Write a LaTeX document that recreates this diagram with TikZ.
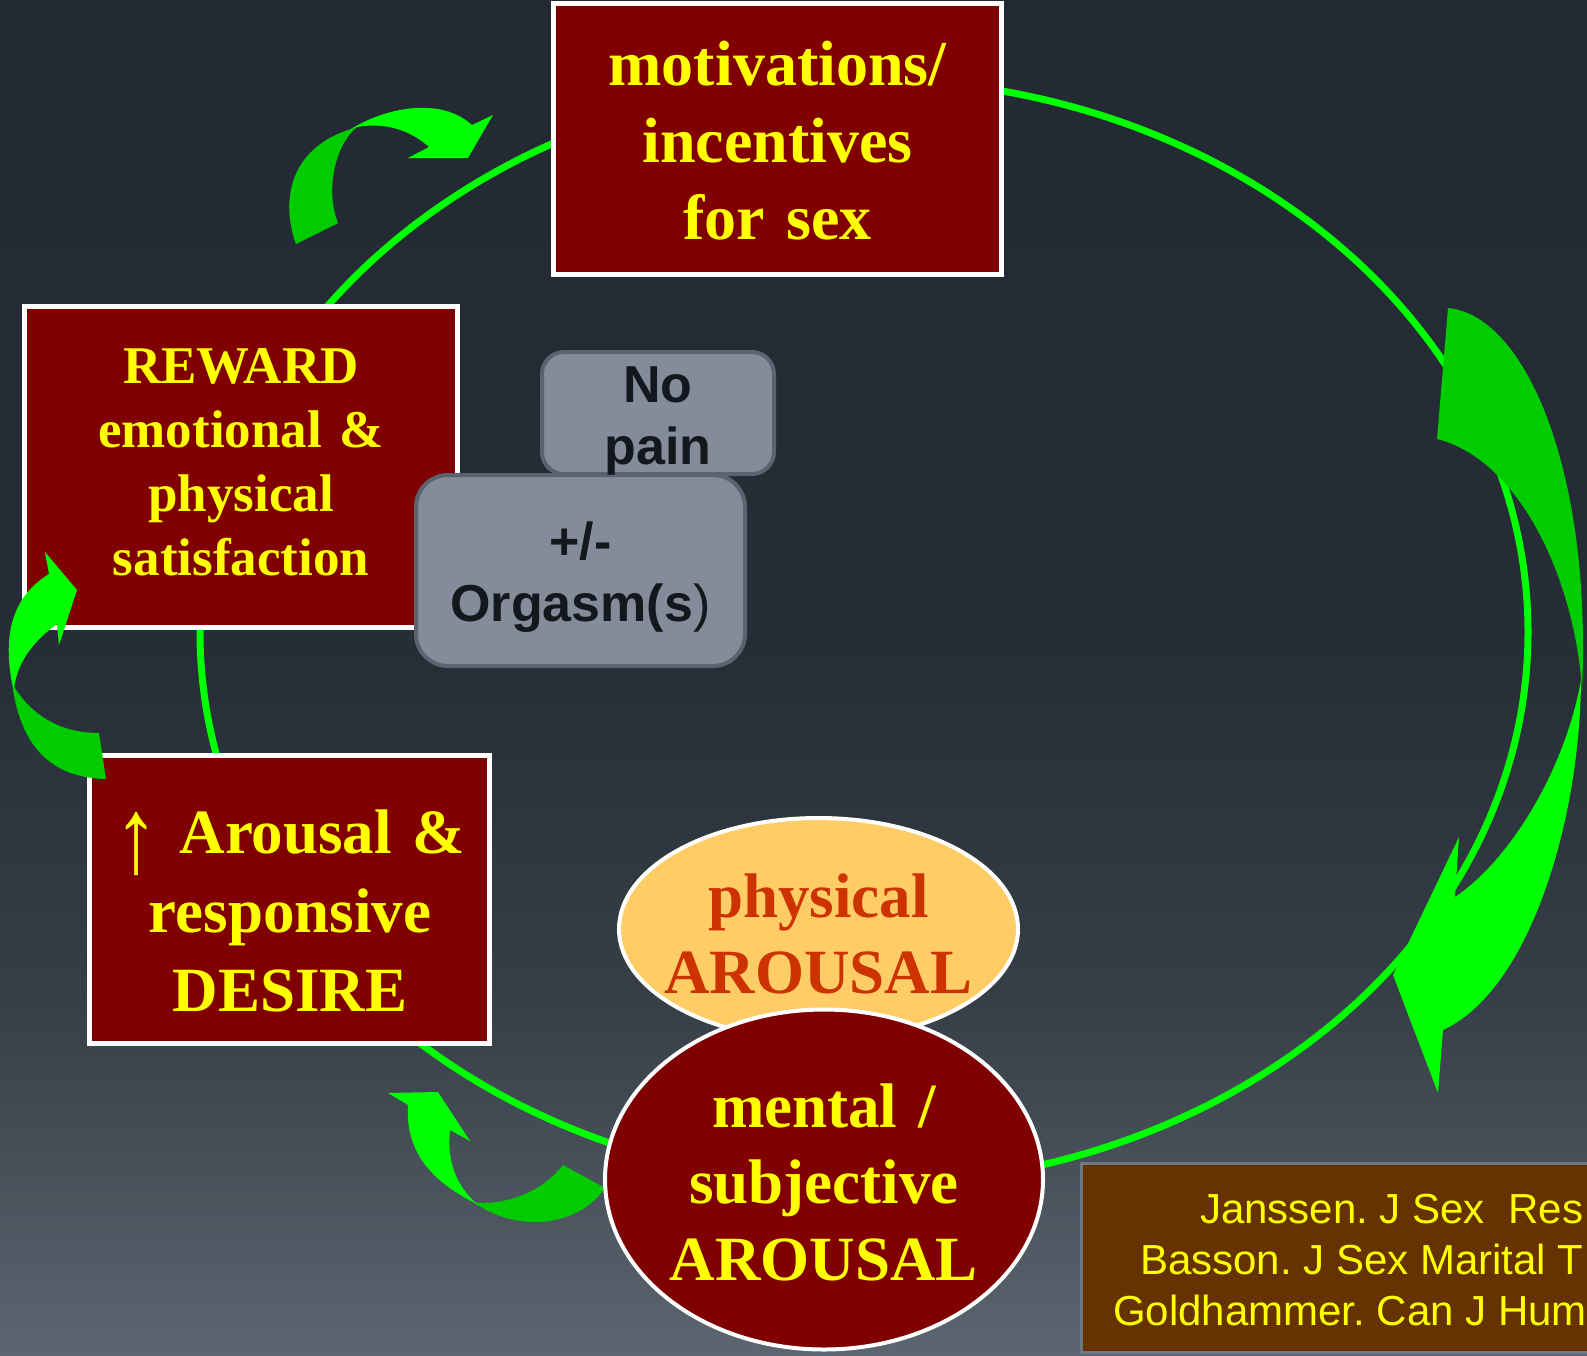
\documentclass[tikz,border=0pt]{standalone}
\usepackage{fontspec}
\usepackage{graphicx}
\setmainfont{Liberation Serif}
\newfontfamily\arialf{Liberation Sans}
\usetikzlibrary{shapes.geometric}
\definecolor{bgA}{RGB}{35,41,50}
\definecolor{bgB}{RGB}{38,45,54}
\definecolor{bgC}{RGB}{54,62,71}
\definecolor{bgD}{RGB}{92,102,112}
\definecolor{boxred}{RGB}{128,0,0}
\definecolor{yel}{RGB}{255,255,0}
\definecolor{physfill}{RGB}{255,204,102}
\definecolor{phystext}{RGB}{204,51,0}
\definecolor{grayfill}{RGB}{132,140,154}
\definecolor{grayedge}{RGB}{92,99,112}
\definecolor{graytext}{RGB}{20,24,30}
\definecolor{lime}{RGB}{0,255,0}
\definecolor{arrowdark}{RGB}{0,204,0}
\definecolor{citefill}{RGB}{102,51,0}
\definecolor{citeedge}{RGB}{110,120,132}
\newcommand{\fixsp}{\frenchspacing\spaceskip=\fontdimen2\font\relax}
\begin{document}
\begin{tikzpicture}[x=1pt,y=-1pt,
  redbox/.style={rectangle, draw=white, line width=5pt, fill=boxred, inner sep=0pt},
  graybox/.style={rectangle, draw=grayedge, line width=4pt, fill=grayfill, inner sep=0pt},
  ovalbox/.style={ellipse, draw=white, line width=4pt, inner sep=0pt},
  seriftxt/.style={text=yel, align=center, text width=600pt, inner sep=0pt, anchor=base},
  sanstxt/.style={text=graytext, align=center, text width=400pt, inner sep=0pt, anchor=base,
    font=\arialf\bfseries\fontsize{52}{62}\selectfont\fixsp},
  citetxt/.style={text=yel, inner sep=0pt, anchor=base west, font=\arialf\fontsize{42}{51}\selectfont\fixsp},
  cycleline/.style={draw=lime, line width=7pt},
  darkpart/.style={fill=arrowdark},
  lightpart/.style={fill=lime}
]
\useasboundingbox (0,0) rectangle (1587,1355);
\clip (0,0) rectangle (1587,1355);
% background
\shade[top color=bgA, bottom color=bgB] (0,-1) rectangle (1588,651);
\shade[top color=bgB, bottom color=bgC] (0,650) rectangle (1588,1001);
\shade[top color=bgC, bottom color=bgD] (0,1000) rectangle (1588,1356);

% cycle
\draw[cycleline] (864,632) ellipse [x radius=664pt, y radius=553pt];

% red boxes
\node[redbox, minimum width=448pt, minimum height=271pt] (motiv) at (777.5,139) {};
\node[seriftxt, font=\bfseries\fontsize{64}{77}\selectfont\fixsp] (motivT) at (777.5,85) {motivations/\\incentives\\for sex};

\node[redbox, minimum width=433pt, minimum height=321pt] (reward) at (241,467) {};
\node[seriftxt, font=\bfseries\fontsize{53}{64.3}\selectfont\fixsp] (rewardT) at (241,383) {REWARD\\emotional \&\\physical\hspace*{14pt}\\satisfaction};

\node[redbox, minimum width=400pt, minimum height=288pt] (desire) at (289,899.5) {};
\node[seriftxt, font=\bfseries\fontsize{63}{79}\selectfont\fixsp] (desireT) at (290,853)
  {{\mdseries\raisebox{-19pt}{\scalebox{1.4}[1.7]{↑}}} Arousal \&\\responsive\\DESIRE};

% curved arrows
\fill[darkpart] (296,244) .. controls (280,200) and (290,148) .. (351,129) -- (357,127) .. controls (335,145) and (325,190) .. (338,223) -- cycle;
\fill[lightpart] (351,129) .. controls (385,108) and (440,96) .. (472,125) -- (493,115) -- (468,158) -- (408,158) -- (429,147) .. controls (410,130) and (385,122) .. (357,127) -- cycle;

\fill[darkpart] (106,779) .. controls (50,778) and (20,745) .. (12,683) .. controls (30,715) and (60,733) .. (99,733) -- cycle;
\fill[lightpart] (12,683) .. controls (2,630) and (15,595) .. (49,574) -- (45,552) -- (77,590) -- (59,645) -- (57,624) .. controls (35,640) and (18,660) .. (14,688) -- cycle;

\fill[darkpart] (605,1188) .. controls (580,1225) and (520,1235) .. (473,1202) .. controls (500,1206) and (540,1195) .. (563,1165) -- cycle;
\fill[lightpart] (473,1202) .. controls (430,1180) and (405,1150) .. (408,1105) -- (388,1093) -- (438,1092) -- (470,1141) -- (450,1130) .. controls (447,1160) and (455,1185) .. (478,1205) -- cycle;

\fill[darkpart] (1448,308) .. controls (1525,315) and (1592,470) .. (1582,690) .. controls (1575,580) and (1520,460) .. (1437,439) -- cycle;
\fill[lightpart] (1581,680) .. controls (1580,820) and (1530,990) .. (1443,1030) -- (1438,1093) -- (1393,975) -- (1459,837) -- (1455,897) .. controls (1510,860) and (1565,770) .. (1581,680) -- cycle;

% gray boxes
\node[graybox, rounded corners=32pt, minimum width=329pt, minimum height=191pt] (orgasm) at (580.5,570.5) {};
\node[sanstxt] (orgasmT) at (580.5,559) {+/-\\Orgasm(s{\mdseries)}};
\node[graybox, rounded corners=22pt, minimum width=232pt, minimum height=122pt] (nopain) at (658,413) {};
\node[sanstxt] (nopainT) at (658,402) {No\\pain};

% ellipses
\node[ovalbox, fill=physfill, minimum width=399pt, minimum height=222pt] (physical) at (818.5,929) {};
\node[seriftxt, text=phystext, font=\bfseries\fontsize{63}{76}\selectfont\fixsp] (physicalT) at (818.5,917) {physical\\AROUSAL};
\node[ovalbox, fill=boxred, minimum width=438pt, minimum height=340pt] (mental) at (824,1179.5) {};
\node[seriftxt, font=\bfseries\fontsize{63}{76.5}\selectfont\fixsp] (mentalT) at (824,1127) {mental /\\subjective\\AROUSAL};

% citation
\node[rectangle, draw=citeedge, line width=3pt, fill=citefill, inner sep=0pt, minimum width=511pt, minimum height=189pt] (cite) at (1337,1258) {};
\node[citetxt] (cite1) at (1200,1223) {Janssen. J Sex~\ Res};
\node[citetxt] (cite2) at (1140,1274) {Basson. J Sex Marital T};
\node[citetxt] (cite3) at (1113,1325) {Goldhammer. Can J Hum};
\end{tikzpicture}
\end{document}
